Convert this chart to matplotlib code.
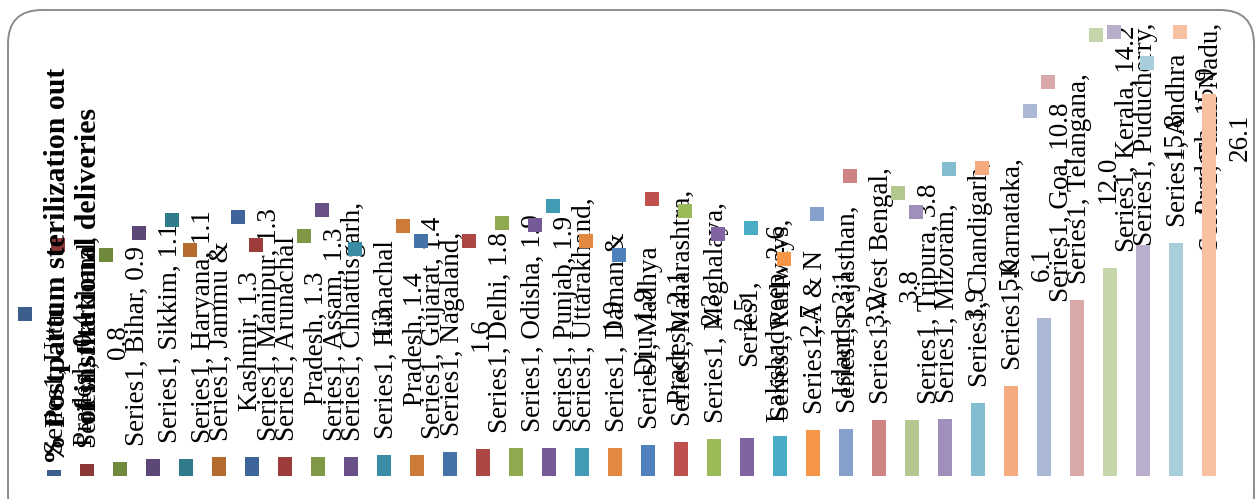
import matplotlib
matplotlib.use("Agg")
import matplotlib.pyplot as plt
from matplotlib.patches import FancyBboxPatch, Rectangle
from matplotlib.textpath import TextPath
from matplotlib.font_manager import FontProperties

# ---- data -------------------------------------------------------------
states = ["Uttar Pradesh", "Jharkhand", "Bihar", "Sikkim", "Haryana",
          "Jammu & Kashmir", "Manipur", "Arunachal Pradesh", "Assam",
          "Chhattisgarh", "Himachal Pradesh", "Gujarat", "Nagaland", "Delhi",
          "Odisha", "Punjab", "Uttarakhand", "Daman & Diu", "Madhya Pradesh",
          "Maharashtra", "Meghalaya", "Lakshadweep", "Railways",
          "A & N Islands", "Rajasthan", "West Bengal", "Tripura", "Mizoram",
          "Chandigarh", "Karnataka", "Goa", "Telangana", "Kerala",
          "Puducherry", "Andhra Pradesh", "Tamil Nadu"]
pct_sterilization = [0.4, 0.8, 0.9, 1.1, 1.1, 1.3, 1.3, 1.3, 1.3, 1.3, 1.4,
                     1.4, 1.6, 1.8, 1.9, 1.9, 1.9, 1.9, 2.1, 2.3, 2.5, 2.6,
                     2.7, 3.1, 3.2, 3.8, 3.8, 3.9, 5.0, 6.1, 10.8, 12.0, 14.2,
                     15.8, 15.9, 26.1]
series_name = "Series1"
title = "% Postpartum sterilization out\nof institutional deliveries"

bar_colors = ["#3B5E8C", "#8C3836", "#6F8A3C", "#5C4776", "#2F7B8C", "#B66B2E",
              "#3E6599", "#9C3D3B", "#7F9946", "#6A5089", "#398CA3", "#CC7A38",
              "#4672AA", "#AE4644", "#8FAA4E", "#765A98", "#419BB4", "#E1893F",
              "#4F81BD", "#C0504D", "#9BBB59", "#8064A2", "#4BACC6", "#F79646",
              "#86A0CC", "#CD8482", "#B2C88E", "#A08FBA", "#84BDCF", "#F5AB7D",
              "#AAB8D6", "#D9A8A8", "#C7D6AA", "#B9AECB", "#A8CEDB", "#F8C2A2"]

# ---- figure -----------------------------------------------------------
W, H, DPI = 1256, 499, 100
fig = plt.figure(figsize=(W / DPI, H / DPI), dpi=DPI)
fig.patch.set_facecolor("white")

# overlay axes in pixel units (y grows downward) for frame, labels, title
pax = fig.add_axes([0, 0, 1, 1], zorder=0)
pax.set_xlim(0, W)
pax.set_ylim(H, 0)
pax.axis("off")

frame = FancyBboxPatch((8, 10), W - 10, H + 20,
                       boxstyle="round,pad=0,rounding_size=34",
                       facecolor="white", edgecolor="#8C8C8C", linewidth=1.4)
pax.add_patch(frame)

# bar axes
plot_left, plot_right, plot_top, plot_bottom = 37.5, 1225.5, 20, 475.5
ax = fig.add_axes([plot_left / W, 1 - plot_bottom / H,
                   (plot_right - plot_left) / W, (plot_bottom - plot_top) / H],
                  zorder=1)
ax.patch.set_alpha(0)
ax.axis("off")
n = len(states)
ax.set_xlim(-0.5, n - 0.5)
ax.set_ylim(0, 31.2)
xs = list(range(n))
ax.bar(xs, pct_sterilization, width=0.42, color=bar_colors, linewidth=0)

# ---- data labels ------------------------------------------------------
FS = 19.5
font = FontProperties(family="Liberation Serif", size=FS)


def text_width(s):
    return TextPath((0, 0), s, size=FS, prop=font).get_extents().width


def wrap(s, limit=8.7 * FS):
    words = s.split(" ")
    lines, cur = [], words[0]
    for w in words[1:]:
        trial = cur + " " + w
        if text_width(trial) <= limit:
            cur = trial
        else:
            lines.append(cur)
            cur = w
    lines.append(cur)
    return "\n".join(lines)


labels = []
for i, (name, val) in enumerate(zip(states, pct_sterilization)):
    xd, yd = ax.transData.transform((i, val))
    x_px, top_px = xd, H - yd
    t = pax.text(x_px + 17, top_px - 16, wrap(f"{series_name}, {name}, {val:.1f}"),
                 rotation=90, ha="center", va="bottom", multialignment="center",
                 fontproperties=font, color="black", zorder=3)
    labels.append(t)

fig.canvas.draw()
renderer = fig.canvas.get_renderer()
TOP_LIMIT = 23
for t, col in zip(labels, bar_colors):
    bb = t.get_window_extent(renderer)
    top = H - bb.y1
    if top < TOP_LIMIT:
        x0, y0 = t.get_position()
        t.set_position((x0, y0 + (TOP_LIMIT - top)))
        top = TOP_LIMIT
    left = bb.x0
    sq = 14
    pax.add_patch(Rectangle((left - 19 - sq / 2, top + 9 - sq / 2), sq, sq,
                            facecolor=col, edgecolor="none", zorder=4))

# ---- title ------------------------------------------------------------
pax.text(73, 266, title, rotation=90, ha="center", va="center",
         multialignment="center", family="Liberation Serif",
         fontweight="bold", fontsize=21.5, color="black", zorder=5)

fig.savefig("out.png", dpi=DPI, facecolor="white")
